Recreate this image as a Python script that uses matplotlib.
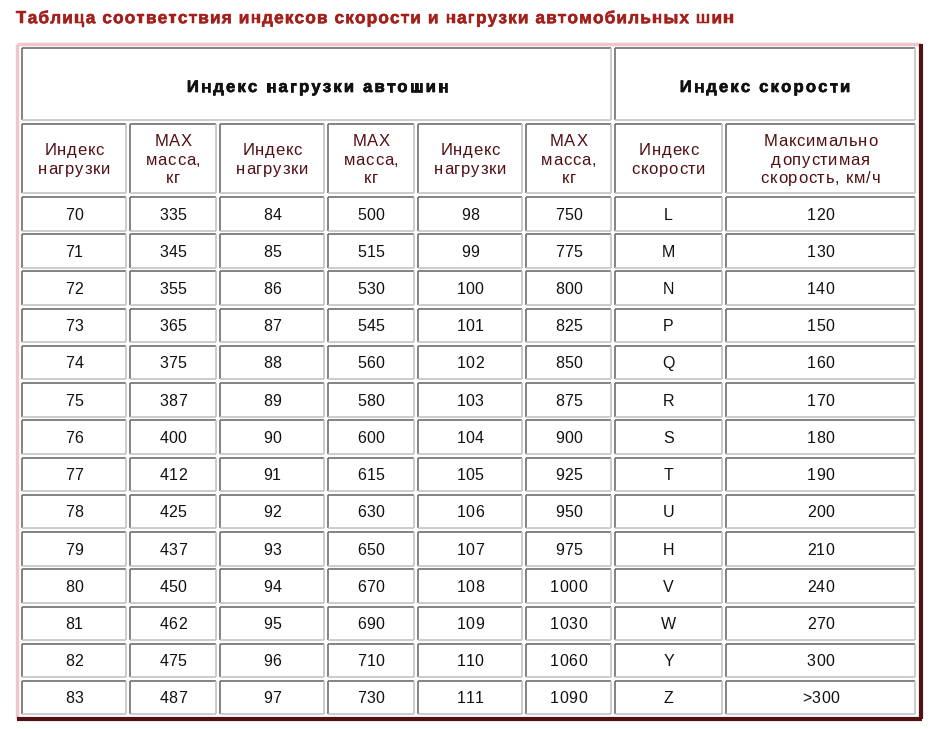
import matplotlib.pyplot as plt
import matplotlib.patheffects as pe
from matplotlib.patches import Rectangle
from matplotlib.font_manager import FontProperties, findfont
from matplotlib.ft2font import FT2Font

# Table data
load_idx_1 = [70, 71, 72, 73, 74, 75, 76, 77, 78, 79, 80, 81, 82, 83]
load_kg_1 = [335, 345, 355, 365, 375, 387, 400, 412, 425, 437, 450, 462, 475, 487]
load_idx_2 = [84, 85, 86, 87, 88, 89, 90, 91, 92, 93, 94, 95, 96, 97]
load_kg_2 = [500, 515, 530, 545, 560, 580, 600, 615, 630, 650, 670, 690, 710, 730]
load_idx_3 = [98, 99, 100, 101, 102, 103, 104, 105, 106, 107, 108, 109, 110, 111]
load_kg_3 = [750, 775, 800, 825, 850, 875, 900, 925, 950, 975, 1000, 1030, 1060, 1090]
speed_idx = ['L', 'M', 'N', 'P', 'Q', 'R', 'S', 'T', 'U', 'H', 'V', 'W', 'Y', 'Z']
speed_kmh = ['120', '130', '140', '150', '160', '170', '180', '190', '200', '210',
             '240', '270', '300', '>300']

title = 'Таблица соответствия индексов скорости и нагрузки автомобильных шин'
group_heads = ['Индекс нагрузки автошин', 'Индекс скорости']
col_heads = ['Индекс\nнагрузки', 'MAX\nмасса,\nкг', 'Индекс\nнагрузки', 'MAX\nмасса,\nкг',
             'Индекс\nнагрузки', 'MAX\nмасса,\nкг', 'Индекс\nскорости',
             'Максимально\nдопустимая\nскорость, км/ч']

columns = [load_idx_1, load_kg_1, load_idx_2, load_kg_2, load_idx_3, load_kg_3,
           speed_idx, speed_kmh]

# Layout in pixels
W, H = 950, 729
col_w = [104, 86, 104, 86, 104, 85, 107, 189]
gap = 4
x0 = 22
head1_top, head1_h = 48, 72
head2_top, head2_h = 124, 69
row_top, row_h, row_pitch = 197, 33.5, 37.23

dark_red = '#521014'
title_red = '#a3201c'
FAMILY = 'Liberation Sans'

fig = plt.figure(figsize=(W / 100, H / 100), dpi=100)
ax = fig.add_axes([0, 0, 1, 1])
ax.set_xlim(0, W)
ax.set_ylim(H, 0)
ax.axis('off')

_ft = {}


def advances(s, size, weight):
    key = (size, weight)
    if key not in _ft:
        f = FT2Font(findfont(FontProperties(family=FAMILY, weight=weight)))
        f.set_size(size, 100)
        _ft[key] = f
    f = _ft[key]
    return [f.load_char(ord(c)).linearHoriAdvance / 65536 for c in s]


def spaced(x, yc, s, size, weight='normal', color='#111111', sp=0.0, ha='center', stroke=0.0):
    # draw one line of text with extra letter spacing (the source image is letter-spaced)
    adv = advances(s, size, weight)
    total = sum(adv) + sp * (len(s) - 1)
    cx = x - total / 2 if ha == 'center' else x
    base = yc + 0.36 * size * 100 / 72
    effects = [pe.withStroke(linewidth=stroke, foreground=color)] if stroke else None
    for c, a in zip(s, adv):
        if c != ' ':
            ax.text(cx, base, c, fontsize=size, fontweight=weight, color=color,
                    family=FAMILY, ha='left', va='baseline', path_effects=effects)
        cx += a + sp


def cell(x, y, w, h):
    # inset border: dark top/left, light bottom/right
    ax.add_patch(Rectangle((x, y), w, h, facecolor='white', edgecolor='none'))
    ax.plot([x, x + w], [y, y], color='#6e6e6e', lw=1.2, solid_capstyle='butt')
    ax.plot([x, x], [y, y + h], color='#6e6e6e', lw=1.2, solid_capstyle='butt')
    ax.plot([x, x + w], [y + h, y + h], color='#c4c4c4', lw=1.2, solid_capstyle='butt')
    ax.plot([x + w, x + w], [y, y + h], color='#c4c4c4', lw=1.2, solid_capstyle='butt')


# column positions
lefts = []
x = x0
for w in col_w:
    lefts.append(x)
    x += w + gap

# outer table frame (outset)
ox0, oy0, ox1, oy1 = 16.5, 43.5, 920.5, 718.5
ax.plot([ox0, ox1], [oy0, oy0], color='#efc6cc', lw=2.5, solid_capstyle='butt')
ax.plot([ox0, ox0], [oy0, oy1], color='#efc6cc', lw=2.5, solid_capstyle='butt')
ax.plot([ox0, ox1 + 1], [oy1, oy1], color=dark_red, lw=3, solid_capstyle='butt')
ax.plot([ox1, ox1], [oy0, oy1], color=dark_red, lw=3, solid_capstyle='butt')

spaced(16, 17, title, 12.5, 'bold', title_red, sp=1.05, ha='left', stroke=0.35)

# group header row
g1_w = lefts[5] + col_w[5] - lefts[0]
g2_w = lefts[7] + col_w[7] - lefts[6]
cell(lefts[0], head1_top, g1_w, head1_h)
cell(lefts[6], head1_top, g2_w, head1_h)
spaced(lefts[0] + g1_w / 2 + 1, head1_top + head1_h / 2 + 2, group_heads[0], 12, 'bold',
       sp=2.2, stroke=0.5)
spaced(lefts[6] + g2_w / 2, head1_top + head1_h / 2 + 2, group_heads[1], 12, 'bold',
       sp=2.2, stroke=0.5)

# column header row
line_pitch = 18.5
for i, lab in enumerate(col_heads):
    cell(lefts[i], head2_top, col_w[i], head2_h)
    lines = lab.split('\n')
    yc = head2_top + head2_h / 2 - line_pitch * (len(lines) - 1) / 2
    for k, ln in enumerate(lines):
        spaced(lefts[i] + col_w[i] / 2, yc + k * line_pitch, ln, 12, color=dark_red, sp=0.8)

# data rows
for r in range(len(load_idx_1)):
    y = row_top + r * row_pitch
    for i, col in enumerate(columns):
        cell(lefts[i], y, col_w[i], row_h)
        spaced(lefts[i] + col_w[i] / 2, y + row_h / 2, str(col[r]), 11.5, sp=0.4)

fig.savefig('out.png', dpi=100, facecolor='white')
